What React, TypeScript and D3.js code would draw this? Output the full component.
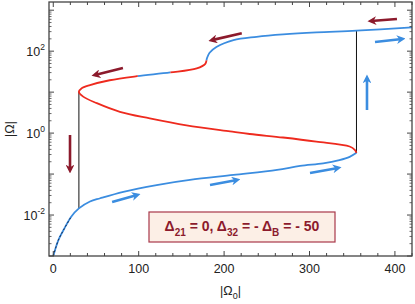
import React from "react";
import * as d3 from "d3";

// stable lower branch (blue)
const lowerX = [0, 6, 12, 21, 30, 43, 55, 82, 121, 160, 211, 262, 289, 316, 335, 347, 355];
const lowerY = [0.001, 0.00245, 0.0043, 0.0091, 0.0145, 0.0214, 0.0257, 0.037, 0.054, 0.072, 0.095, 0.126, 0.158, 0.182, 0.219, 0.263, 0.33];

// middle branch, from right fold back to left fold (red)
const middleX = [355, 353, 347, 308, 269, 230, 207, 156, 113, 78, 51, 35, 30];
const middleY = [0.33, 0.39, 0.47, 0.62, 0.78, 0.95, 1.1, 1.55, 2.29, 3.31, 5.37, 7.76, 10.2];

// upper branch, from left fold to the right edge
const upperX = [30, 33, 43, 66, 98, 137, 168, 178, 180, 183, 191, 211, 238, 269, 308, 355, 420];
const upperY = [10.2, 12.3, 14.8, 19.5, 24.5, 30.2, 38.0, 49.0, 67.6, 91.2, 126, 186, 224, 257, 288, 316, 380];

// jumps between branches
const jumpX = [30, 355];
const jumpFrom = [10.2, 0.33];
const jumpTo = [0.0145, 316];

// arrows: [x0, y0, x1, y1]
const redArrows = [
  [81.6, 38.9, 48.8, 26.2],
  [19.6, 0.9, 19.6, 0.126],
  [220.7, 275, 185.7, 186],
  [402.4, 610, 372, 545],
];
const blueArrows = [
  [68.9, 0.0209, 98.1, 0.0309],
  [183.5, 0.054, 215, 0.0716],
  [300.6, 0.106, 333.4, 0.141],
  [376.7, 167, 408.3, 198],
  [367.3, 3.66, 367.3, 22.1],
];

const xTicks = [0, 100, 200, 300, 400];
const yLabelExps = [-2, 0, 2];

const W = 415;
const H = 304;
const m = { left: 49, right: 3, top: 2, bottom: 48 };
const BLUE = "#3b8de0";
const RED = "#ee2a1e";
const DARKRED = "#8c1a2c";
const FRAME = "#444";

export default function App() {
  const x = d3.scaleLinear().domain([-5, 420]).range([m.left, W - m.right]);
  const y = d3.scaleLog().domain([1e-3, Math.pow(10, 3.2)]).range([H - m.bottom, m.top]);
  const x0 = m.left, x1 = W - m.right, y0 = H - m.bottom, y1 = m.top;

  const line = d3
    .line<[number, number]>()
    .x((d) => x(d[0]))
    .y((d) => y(d[1]))
    .curve(d3.curveCatmullRom);

  const lowerPts = lowerX.map((v, i) => [v, lowerY[i]] as [number, number]);
  const sPts = [
    ...middleX.map((v, i) => [v, middleY[i]] as [number, number]),
    ...upperX.slice(1).map((v, i) => [v, upperY[i + 1]] as [number, number]),
  ];
  const sPath = line(sPts) || "";

  // pixel regions of the upper branch drawn in blue
  const blueA = { x: x(99), y: y1, w: x(137) - x(99), h: y(8) - y1 };
  const blueB = { x: x(170), y: y1, w: x1 - x(170), h: y(60) - y1 };

  const minorX = d3.range(0, 421, 20).filter((v) => v % 100 !== 0);
  const decades = d3.range(-3, 4);
  const minorY: number[] = [];
  decades.forEach((e) => {
    for (let k = 2; k < 10; k++) {
      const v = k * Math.pow(10, e);
      if (v < Math.pow(10, 3.2)) minorY.push(v);
    }
  });

  const arrow = (a: number[], color: string, id: string, k: number) => (
    <line
      key={id + k}
      x1={x(a[0])}
      y1={y(a[1])}
      x2={x(a[2])}
      y2={y(a[3])}
      stroke={color}
      strokeWidth={2.6}
      markerEnd={`url(#${id})`}
    />
  );

  const font = "'Liberation Sans', Arial, sans-serif";

  return (
    <svg
      width={W}
      height={H}
      style={{ position: "absolute", left: 0, top: 0, background: "#fff" }}
      fontFamily={font}
    >
      <defs>
        <marker id="hr" viewBox="0 0 10 10" refX="6" refY="5" markerWidth="3.4" markerHeight="3.4" orient="auto">
          <path d="M0,0 L10,5 L0,10 L3,5 Z" fill={DARKRED} />
        </marker>
        <marker id="hb" viewBox="0 0 10 10" refX="6" refY="5" markerWidth="3.4" markerHeight="3.4" orient="auto">
          <path d="M0,0 L10,5 L0,10 L3,5 Z" fill={BLUE} />
        </marker>
        <clipPath id="plot">
          <rect x={x0} y={y1} width={x1 - x0} height={y0 - y1} />
        </clipPath>
        <clipPath id="blueA">
          <rect x={blueA.x} y={blueA.y} width={blueA.w} height={blueA.h} />
        </clipPath>
        <clipPath id="blueB">
          <rect x={blueB.x} y={blueB.y} width={blueB.w} height={blueB.h} />
        </clipPath>
        <mask id="redMask" maskUnits="userSpaceOnUse" x={0} y={0} width={W} height={H}>
          <rect x={0} y={0} width={W} height={H} fill="#fff" />
          <rect x={blueA.x} y={blueA.y} width={blueA.w} height={blueA.h} fill="#000" />
          <rect x={blueB.x} y={blueB.y} width={blueB.w} height={blueB.h} fill="#000" />
        </mask>
      </defs>

      <g clipPath="url(#plot)" fill="none">
        {jumpX.map((v, i) => (
          <line key={"j" + i} x1={x(v)} x2={x(v)} y1={y(jumpFrom[i])} y2={y(jumpTo[i])} stroke="#111" strokeWidth={1} />
        ))}
        <path d={line(lowerPts) || ""} stroke={BLUE} strokeWidth={1.8} />
        <path d={line(lowerPts.slice(0, 4)) || ""} stroke="#1a2a4a" strokeWidth={1} strokeDasharray="2,2" />
        <path d={sPath} stroke={RED} strokeWidth={1.8} mask="url(#redMask)" />
        <path d={sPath} stroke={BLUE} strokeWidth={1.8} clipPath="url(#blueA)" />
        <path d={sPath} stroke={BLUE} strokeWidth={1.8} clipPath="url(#blueB)" />
      </g>

      {redArrows.map((a, k) => arrow(a, DARKRED, "hr", k))}
      {blueArrows.map((a, k) => arrow(a, BLUE, "hb", k))}

      {/* frame */}
      <rect x={x0} y={y1} width={x1 - x0} height={y0 - y1} fill="none" stroke={FRAME} strokeWidth={1.3} />

      {/* x ticks */}
      {xTicks.map((t) => (
        <g key={"xt" + t}>
          <line x1={x(t)} x2={x(t)} y1={y0} y2={y0 - 5} stroke={FRAME} />
          <line x1={x(t)} x2={x(t)} y1={y1} y2={y1 + 5} stroke={FRAME} />
          <text x={x(t)} y={y0 + 17} textAnchor="middle" fontSize={12.5} fill="#222">
            {t}
          </text>
        </g>
      ))}
      {minorX.map((t) => (
        <g key={"xm" + t}>
          <line x1={x(t)} x2={x(t)} y1={y0} y2={y0 - 3} stroke={FRAME} />
          <line x1={x(t)} x2={x(t)} y1={y1} y2={y1 + 3} stroke={FRAME} />
        </g>
      ))}

      {/* y ticks */}
      {decades.map((e) => {
        const v = Math.pow(10, e);
        return (
          <g key={"yt" + e}>
            <line x1={x0} x2={x0 + 5} y1={y(v)} y2={y(v)} stroke={FRAME} />
            <line x1={x1} x2={x1 - 5} y1={y(v)} y2={y(v)} stroke={FRAME} />
          </g>
        );
      })}
      {minorY.map((v, i) => (
        <g key={"ym" + i}>
          <line x1={x0} x2={x0 + 2.5} y1={y(v)} y2={y(v)} stroke={FRAME} strokeWidth={0.8} />
          <line x1={x1} x2={x1 - 2.5} y1={y(v)} y2={y(v)} stroke={FRAME} strokeWidth={0.8} />
        </g>
      ))}
      {yLabelExps.map((e) => (
        <text key={"yl" + e} x={x0 - 4} y={y(Math.pow(10, e)) + 5} textAnchor="end" fontSize={12.5} fill="#222">
          10
          <tspan fontSize={8.5} dy={-6}>
            {e}
          </tspan>
        </text>
      ))}

      {/* axis titles */}
      <text transform={`translate(14,${(y0 + y1) / 2}) rotate(-90)`} textAnchor="middle" fontSize={12.5} fill="#222">
        |Ω|
      </text>
      <text x={(x0 + x1) / 2} y={H - 9} textAnchor="middle" fontSize={12.5} fill="#222">
        |Ω
        <tspan fontSize={9} dy={4}>0</tspan>
        <tspan dy={-4}>|</tspan>
      </text>

      {/* parameter box */}
      <rect x={149} y={212} width={186} height={30} fill="#fcefe6" stroke="#a8384a" strokeWidth={1.2} />
      <text x={242} y={231} textAnchor="middle" fontSize={14} fontWeight="bold" fill={DARKRED}>
        Δ<tspan fontSize={10} dy={5}>21</tspan>
        <tspan dy={-5}> = 0, Δ</tspan>
        <tspan fontSize={10} dy={5}>32</tspan>
        <tspan dy={-5}> = - Δ</tspan>
        <tspan fontSize={10} dy={5}>B</tspan>
        <tspan dy={-5}> = - 50</tspan>
      </text>
    </svg>
  );
}
